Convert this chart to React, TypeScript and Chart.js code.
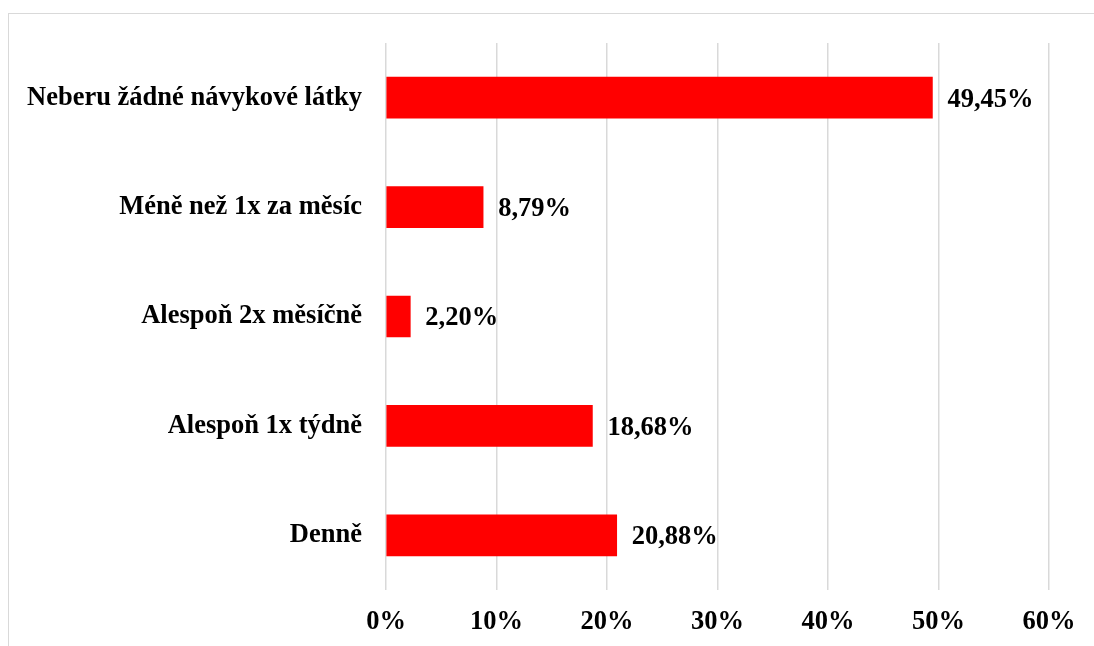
import React, { useEffect, useRef } from "react";
import { Chart, registerables } from "chart.js";

Chart.register(...registerables);

const categories = [
  "Neberu žádné návykové látky",
  "Méně než 1x za měsíc",
  "Alespoň 2x měsíčně",
  "Alespoň 1x týdně",
  "Denně",
];
const values = [49.45, 8.79, 2.2, 18.68, 20.88];
const axisMax = 60;
const axisStep = 10;

const FONT = "'Liberation Serif', 'Times New Roman', serif";
const FSIZE = 26.5;

const dataLabelPlugin = {
  id: "dataLabels",
  afterDatasetsDraw(chart: any) {
    const ctx = chart.ctx;
    const meta = chart.getDatasetMeta(0);
    ctx.save();
    ctx.font = `bold ${FSIZE}px ${FONT}`;
    ctx.fillStyle = "#000";
    ctx.textAlign = "left";
    ctx.textBaseline = "middle";
    meta.data.forEach((bar: any, i: number) => {
      const v = values[i];
      const txt = v.toFixed(2).replace(".", ",") + "%";
      ctx.fillText(txt, bar.x + 15, bar.y + 2);
    });
    ctx.restore();
  },
};

export default function App() {
  const ref = useRef<HTMLCanvasElement>(null);
  useEffect(() => {
    document.body.style.overflow = "hidden";
    const chart = new Chart(ref.current!, {
      type: "bar",
      data: {
        labels: categories,
        datasets: [
          {
            data: values,
            backgroundColor: "#ff0000",
            borderWidth: 0,
            barThickness: 41,
          },
        ],
      },
      options: {
        indexAxis: "y",
        animation: false,
        responsive: false,
        maintainAspectRatio: false,
        devicePixelRatio: 1,
        layout: { padding: { top: 43, right: 45, bottom: 0, left: 0 } },
        plugins: {
          legend: { display: false },
          tooltip: { enabled: false },
        },
        scales: {
          x: {
            min: 0,
            max: axisMax,
            ticks: {
              stepSize: axisStep,
              callback: (v: any) => v + "%",
              font: { family: FONT, size: FSIZE, weight: "bold" },
              color: "#000",
              padding: 16,
              maxRotation: 0,
            },
            grid: { color: "#d9d9d9", lineWidth: 1.5, drawTicks: false },
            border: { display: false },
            afterFit: (s: any) => {
              s.height = 56;
            },
          },
          y: {
            ticks: {
              font: { family: FONT, size: FSIZE, weight: "bold" },
              color: "#000",
              padding: 24,
            },
            grid: { display: false, drawTicks: false },
            border: { display: false },
            afterFit: (s: any) => {
              s.width = 386;
            },
          },
        },
      },
      plugins: [dataLabelPlugin],
    });
    return () => chart.destroy();
  }, []);
  return (
    <div style={{ position: "fixed", left: 0, top: 0, width: 1094, height: 646, overflow: "hidden", background: "#fff" }}>
      <div
        style={{
          position: "absolute",
          left: 8,
          top: 13,
          width: 1200,
          height: 800,
          borderLeft: "1.5px solid #d9d9d9",
          borderTop: "1.5px solid #d9d9d9",
        }}
      />
      <canvas ref={ref} width={1094} height={646} style={{ position: "absolute", left: 0, top: 0, width: 1094, height: 646 }} />
    </div>
  );
}
